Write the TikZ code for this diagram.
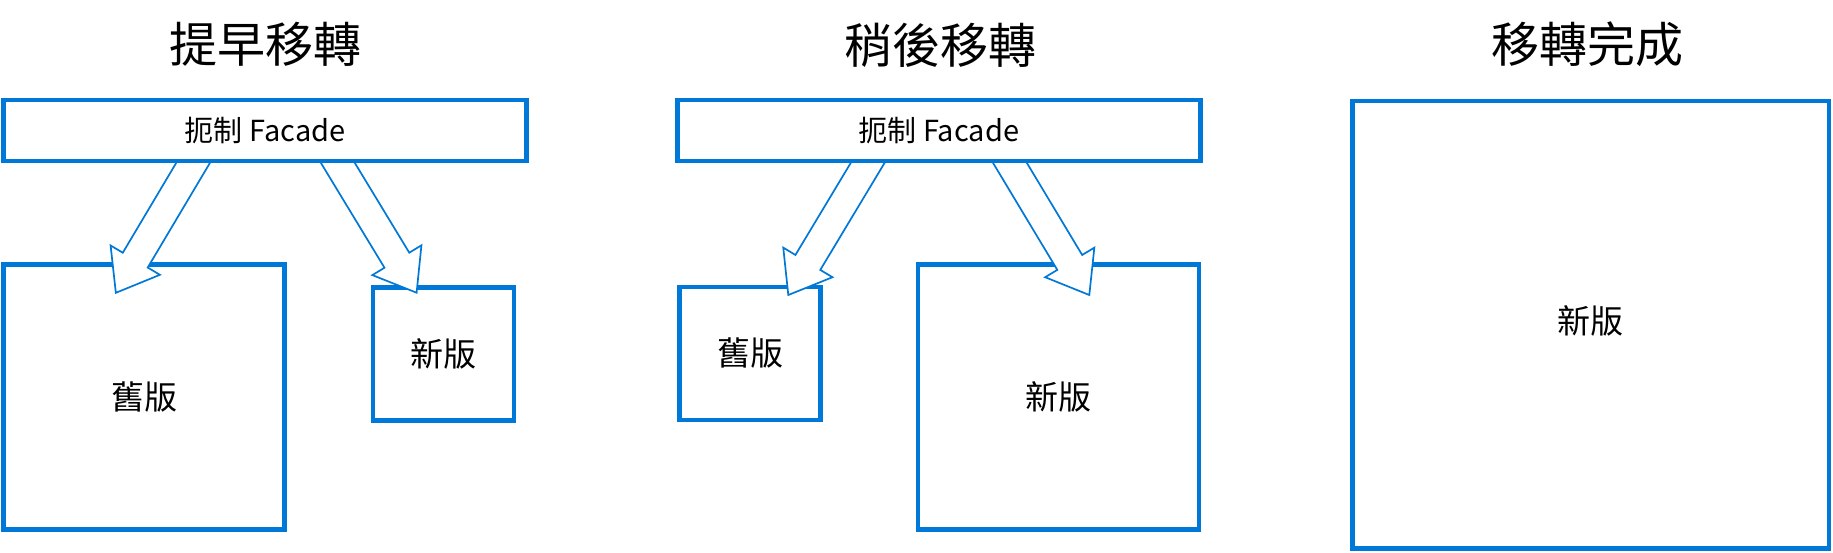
\documentclass[tikz,border=0pt]{standalone}
\usepackage{fontspec}
\setmainfont{Noto Sans CJK TC}
\usetikzlibrary{calc}
\definecolor{msblue}{RGB}{0,120,215}
\tikzset{
  box/.style={draw=msblue, line width=4.8pt, fill=white, rectangle, outer sep=0pt, inner sep=0pt, font=\fontsize{33}{40}\selectfont},
  facadebox/.style={box, minimum width=523pt, minimum height=61pt, font=\fontsize{29}{35}\selectfont},
  titletext/.style={font=\fontsize{48}{58}\selectfont, inner sep=0pt},
  labeltext/.style={font=\fontsize{33}{40}\selectfont, inner sep=0pt},
  flow/.style={draw=msblue, line width=1.7pt, fill=white, line join=miter},
}
\newcommand\blockarr[3]{%
  \coordinate (#1s) at ($(#2)!-12pt!(#3)$);
  \coordinate (#1b) at ($(#3)!38pt!(#2)$);
  \draw[flow] ($(#1s)!14.5pt!90:(#3)$) -- ($(#1b)!14.5pt!90:(#3)$) -- ($(#1b)!28.7pt!90:(#3)$) -- (#3)
    -- ($(#1b)!28.7pt!-90:(#3)$) -- ($(#1b)!14.5pt!-90:(#3)$) -- ($(#1s)!14.5pt!-90:(#3)$) -- cycle;
}
\begin{document}
\begin{tikzpicture}[x=1pt,y=-1pt]
\useasboundingbox[fill=white] (0,0) rectangle (1833,552);
% titles
\node[titletext] (title1) at (265.3,44.5) {提早移轉};
\node[titletext] (title2) at (940,45.8) {稍後移轉};
\node[titletext] (title3) at (1587.5,44.2) {移轉完成};
% target boxes
\node[box, minimum width=281pt, minimum height=265pt] (old1) at (144.35,397.1) {舊版};
\node[box, minimum width=141pt, minimum height=133pt] (new1) at (443.4,354) {新版};
\node[box, minimum width=141pt, minimum height=133pt] (old2) at (750.25,353.4) {舊版};
\node[box, minimum width=281pt, minimum height=265pt] (new2) at (1058.5,397.35) {新版};
\node[box, minimum width=476.5pt, minimum height=447.7pt] (new3) at (1590.75,324.85) {};
\node[labeltext] (new3label) at ($(new3.center)+(0,-3.5)$) {新版};
% arrow start and tip points
\coordinate (S1) at (265.2-71,161);
\coordinate (S2) at (265.2+71.5,161);
\coordinate (S3) at (938.8-70,161);
\coordinate (S4) at (938.8+70,161);
\coordinate (T1) at ($(old1.north west)+(112,28.2)$);
\coordinate (T2) at ($(new1.north west)+(43.7,5.2)$);
\coordinate (T3) at ($(old2.north west)+(108.55,8.1)$);
\coordinate (T4) at ($(new2.north west)+(171.3,30.15)$);
\blockarr{a1}{S1}{T1}
\blockarr{a2}{S2}{T2}
\blockarr{a3}{S3}{T3}
\blockarr{a4}{S4}{T4}
% facade boxes on top
\node[facadebox] (f1) at (265.2,130.5) {扼制 Facade};
\node[facadebox] (f2) at (938.8,130.5) {扼制 Facade};
\end{tikzpicture}
\end{document}
